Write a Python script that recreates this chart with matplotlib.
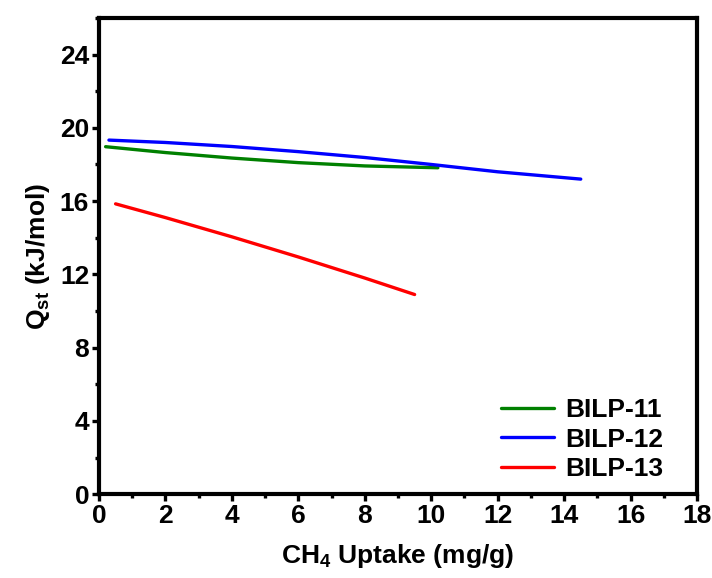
import matplotlib
matplotlib.use('Agg')
from matplotlib import pyplot
from matplotlib.ticker import MultipleLocator

FONT = ['Liberation Sans', 'DejaVu Sans']
pyplot.rcParams['font.family'] = FONT
pyplot.rcParams['font.weight'] = 'bold'
pyplot.rcParams['axes.labelweight'] = 'bold'
pyplot.rcParams['mathtext.fontset'] = 'custom'
pyplot.rcParams['mathtext.rm'] = 'Liberation Sans:bold'
pyplot.rcParams['mathtext.it'] = 'Liberation Sans:bold'
pyplot.rcParams['mathtext.bf'] = 'Liberation Sans:bold'

# BILP-11
bilp11_x = [0.2, 2, 4, 6, 8, 10.2]
bilp11_y = [18.97, 18.65, 18.35, 18.1, 17.92, 17.82]
# BILP-12
bilp12_x = [0.3, 2, 4, 6, 8, 10, 12, 14.5]
bilp12_y = [19.33, 19.2, 18.98, 18.7, 18.38, 18.0, 17.6, 17.2]
# BILP-13
bilp13_x = [0.5, 2, 4, 6, 8, 9.5]
bilp13_y = [15.85, 15.1, 14.05, 12.95, 11.8, 10.9]

SERIES = [
    ('BILP-11', bilp11_x, bilp11_y, '#008000'),
    ('BILP-12', bilp12_x, bilp12_y, '#0000FF'),
    ('BILP-13', bilp13_x, bilp13_y, '#FF0000'),
]


def set_locators(axis_x, axis_y):
    axis_x.set_major_locator(MultipleLocator(2))
    axis_x.set_minor_locator(MultipleLocator(1))
    axis_y.set_major_locator(MultipleLocator(4))
    axis_y.set_minor_locator(MultipleLocator(2))


def main():
    figure = pyplot.figure(figsize=(7.12, 5.78), dpi=100)
    axes = figure.add_axes([0.139, 0.145, 0.840, 0.824])

    for label, xs, ys, color in SERIES:
        axes.plot(xs, ys, color=color, linewidth=2.4, label=label,
                  solid_capstyle='round')

    axes.set_xlim(0, 18)
    axes.set_ylim(0, 26)
    set_locators(axes.xaxis, axes.yaxis)

    for spine in axes.spines.values():
        spine.set_linewidth(3)
    axes.tick_params(which='both', direction='out', width=2.4, labelsize=19)
    axes.tick_params(which='major', length=5, pad=2)
    axes.tick_params(which='minor', length=3)

    # 上・右の目盛りはごく短い
    top = axes.secondary_xaxis('top')
    right = axes.secondary_yaxis('right')
    set_locators(top.xaxis, right.yaxis)
    top.set_xticklabels([])
    right.set_yticklabels([])
    for sec in (top, right):
        sec.tick_params(which='both', direction='inout', width=1.5, length=3)
        for spine in sec.spines.values():
            spine.set_visible(False)

    axes.set_xlabel('CH$_4$ Uptake (mg/g)', fontsize=19, labelpad=10)
    axes.set_ylabel('Q$_{st}$ (kJ/mol)', fontsize=19, labelpad=6)

    axes.legend(loc='lower right', frameon=False, fontsize=19,
                handlelength=2.0, handletextpad=0.4, labelspacing=0.2,
                borderaxespad=0.2, borderpad=0.3,
                bbox_to_anchor=(0.965, 0.0))

    pyplot.savefig('out.png', dpi=100)


main()
